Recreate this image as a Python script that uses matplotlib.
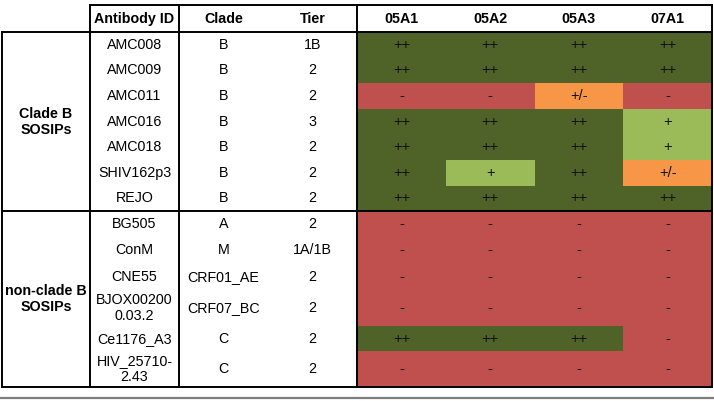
import numpy as np
import matplotlib
matplotlib.use("Agg")
from matplotlib import pyplot as plt
from matplotlib.colors import ListedColormap

plt.rcParams['font.family'] = ['Liberation Sans', 'DejaVu Sans']

# table data
groups = ["Clade B\nSOSIPs", "non-clade B\nSOSIPs"]
group_sizes = [7, 6]
antibodies = ["AMC008", "AMC009", "AMC011", "AMC016", "AMC018", "SHIV162p3", "REJO",
              "BG505", "ConM", "CNE55", "BJOX00200\n0.03.2", "Ce1176_A3", "HIV_25710-\n2.43"]
clades = ["B", "B", "B", "B", "B", "B", "B", "A", "M", "CRF01_AE", "CRF07_BC", "C", "C"]
tiers = ["1B", "2", "2", "3", "2", "2", "2", "2", "1A/1B", "2", "2", "2", "2"]
strains = ["05A1", "05A2", "05A3", "07A1"]
scores = [
    ["++", "++", "++", "++"],
    ["++", "++", "++", "++"],
    ["-", "-", "+/-", "-"],
    ["++", "++", "++", "+"],
    ["++", "++", "++", "+"],
    ["++", "+", "++", "+/-"],
    ["++", "++", "++", "++"],
    ["-", "-", "-", "-"],
    ["-", "-", "-", "-"],
    ["-", "-", "-", "-"],
    ["-", "-", "-", "-"],
    ["++", "++", "++", "-"],
    ["-", "-", "-", "-"],
]
levels = ["-", "+/-", "+", "++"]
level_colors = ["#C0504D", "#F79646", "#9BBB59", "#4F6228"]

# layout (pixels)
W, H = 714, 401
x_group, x_id, x_clade, x_heat, x_right = 2, 90, 179, 357, 712
y_top, y_head = 5, 32
row_heights = [25.6] * 7 + [26, 26, 27, 36, 25, 36]
row_edges = y_head + np.concatenate([[0], np.cumsum(row_heights)])
col_edges = np.linspace(x_heat, x_right, len(strains) + 1)

fig = plt.figure(figsize=(W / 100, H / 100), dpi=100)
ax = fig.add_axes([0, 0, 1, 1])
ax.set_xlim(0, W)
ax.set_ylim(H, 0)
ax.axis('off')

# heat cells
codes = np.array([[levels.index(s) for s in row] for row in scores])
ax.pcolormesh(col_edges, row_edges, codes, cmap=ListedColormap(level_colors),
              vmin=-0.5, vmax=len(levels) - 0.5, shading='flat')

fs = 10.3
col_mid = (col_edges[:-1] + col_edges[1:]) / 2
row_mid = (row_edges[:-1] + row_edges[1:]) / 2
x_id_mid = (x_id + x_clade) / 2
x_clade_mid = x_clade + (x_heat - x_clade) / 4
x_tier_mid = x_clade + 3 * (x_heat - x_clade) / 4

# header
hy = (y_top + y_head) / 2 + 0.5
for xm, s in zip([x_id_mid, x_clade_mid, x_tier_mid], ["Antibody ID", "Clade", "Tier"]):
    ax.text(xm, hy, s, ha='center', va='center', fontsize=fs, fontweight='bold')
for xm, s in zip(col_mid, strains):
    ax.text(xm, hy, s, ha='center', va='center', fontsize=fs, fontweight='bold')

# rows
for i in range(len(antibodies)):
    ym = row_mid[i]
    ax.text(x_id_mid, ym, antibodies[i], ha='center', va='center', fontsize=fs, linespacing=1.2)
    ax.text(x_clade_mid, ym, clades[i], ha='center', va='center', fontsize=fs)
    ax.text(x_tier_mid, ym, tiers[i], ha='center', va='center', fontsize=fs)
    for j, s in enumerate(scores[i]):
        ax.text(col_mid[j], ym, s, ha='center', va='center', fontsize=10.5, color='#111111')

# group labels
start = 0
group_bounds = []
for g, n in zip(groups, group_sizes):
    y0, y1 = row_edges[start], row_edges[start + n]
    ax.text((x_group + x_id) / 2, (y0 + y1) / 2, g, ha='center', va='center',
            fontsize=fs, fontweight='bold', linespacing=1.2)
    group_bounds.append(y1)
    start += n

# grid lines
lw = 1.4
for x in [x_id, x_clade, x_heat, x_right]:
    ax.plot([x, x], [y_top, row_edges[-1]], color='black', lw=lw, solid_capstyle='projecting')
ax.plot([x_group, x_group], [y_head, row_edges[-1]], color='black', lw=lw, solid_capstyle='projecting')
ax.plot([x_id, x_right], [y_top, y_top], color='black', lw=lw, solid_capstyle='projecting')
for y in [y_head] + group_bounds:
    ax.plot([x_group, x_right], [y, y], color='black', lw=lw, solid_capstyle='projecting')

# grey rule below the table
ax.plot([0, W], [398, 398], color='#7f7f7f', lw=1.6)

fig.savefig("out.png", dpi=100)
